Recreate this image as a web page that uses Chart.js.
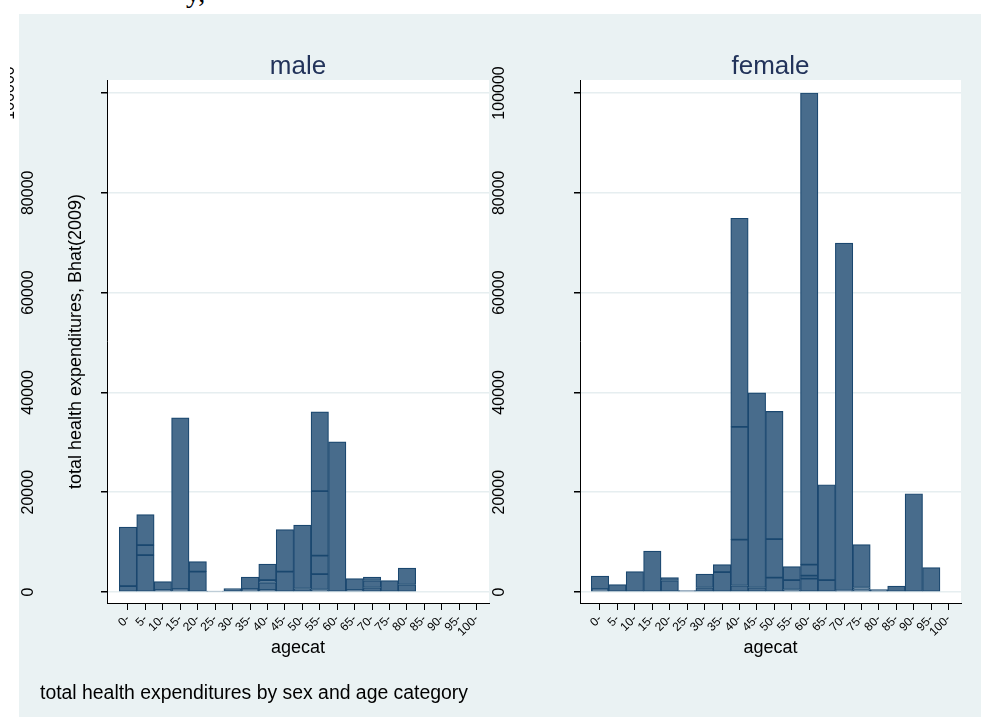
<!DOCTYPE html>
<html>
<head>
<meta charset="utf-8">
<script src="https://cdn.jsdelivr.net/npm/chart.js@4.4.0/dist/chart.umd.min.js"></script>
<style>
html,body{margin:0;padding:0;background:#fff;}
body{width:981px;height:717px;position:relative;overflow:hidden;font-family:'Liberation Sans',Arial,sans-serif;}
#bg{position:absolute;left:19px;top:14px;width:962px;height:703px;background:#eaf2f3;}
#cut{position:absolute;left:186px;top:-21px;font:28px 'Liberation Serif',serif;line-height:28px;color:#000;}
#note{position:absolute;left:40px;top:681px;font-size:19.4px;line-height:22px;color:#000;}
#c1{position:absolute;left:0;top:0;}
#c2{position:absolute;left:480px;top:0;}
</style>
</head>
<body>
<div id="bg"></div>
<div id="cut">y,</div>
<canvas id="c1" width="490" height="717"></canvas>
<canvas id="c2" width="501" height="717"></canvas>
<div id="note">total health expenditures by sex and age category</div>
<script>
const ageLabels = ['0-','5-','10-','15-','20-','25-','30-','35-','40-','45-','50-','55-','60-','65-','70-','75-','80-','85-','90-','95-','100-'];
const yTicks = [0, 20000, 40000, 60000, 80000, 100000];

// stacked pieces, bottom to top, one entry per age category
const maleSeg1 = [1200, 7400, 400, 600, 4100, 200, 700, 600, 400, 4100, 700, 500, 30100, 400, 900, 2300, 1500, null, null, null, null];
const maleSeg2 = [11800, 2000, 1700, 34300, 2000, null, null, 2400, 1500, 8400, 12700, 3100, null, 2300, 1400, null, 3300, null, null, null, null];
const maleSeg3 = [null, 6100, null, null, null, null, null, null, 500, null, null, 3700, null, null, 700, null, null, null, null, null, null];
const maleSeg4 = [null, null, null, null, null, null, null, null, 3200, null, null, 12900, null, null, null, null, null, null, null, null, null];
const maleSeg5 = [null, null, null, null, null, null, null, null, null, null, null, 15900, null, null, null, null, null, null, null, null, null];

const femaleSeg1 = [600, 1500, 4100, 8200, 2300, 300, 900, 4000, 1300, 900, 2900, 500, 2700, 2400, 300, 500, 500, 1200, 19700, 4900, null];
const femaleSeg2 = [2600, null, null, null, 600, null, 2700, 1500, 9200, 39000, 7700, 1900, 600, 19100, 69600, 400, null, null, null, null, null];
const femaleSeg3 = [null, null, null, null, null, null, null, null, 22600, null, 25600, 2700, 2200, null, null, 8600, null, null, null, null, null];
const femaleSeg4 = [null, null, null, null, null, null, null, null, 41800, null, null, null, 94500, null, null, null, null, null, null, null, null];

const fam = "'Liberation Sans', Arial, sans-serif";
const barFill = '#486c8c';
const barLine = '#1a476f';

function toPoints(arr){
 return arr.map((v,i)=>({x:i,y:v}));
}

const plotBg = {
 id:'plotBg',
 beforeDraw(chart){
  const {ctx, chartArea:a} = chart;
  ctx.save();
  ctx.fillStyle = '#fff';
  ctx.fillRect(a.left, a.top, a.right-a.left, a.bottom-a.top);
  ctx.restore();
 }
};

// y tick labels are drawn rotated like the original
const yLabels = {
 id:'yLabels',
 afterDraw(chart, args, o){
  const ctx = chart.ctx, s = chart.scales.y;
  ctx.save();
  ctx.font = '16px ' + fam;
  ctx.fillStyle = '#000';
  ctx.textAlign = 'center';
  ctx.textBaseline = 'middle';
  s.ticks.forEach(t=>{
   const y = s.getPixelForValue(t.value);
   let x = o.x;
   ctx.save();
   if(o.stray === t.value){
    x = o.strayX;
    ctx.beginPath();
    ctx.rect(o.strayClip, 0, 100, chart.height);
    ctx.clip();
   }
   ctx.translate(x, y);
   ctx.rotate(-Math.PI/2);
   ctx.fillText(String(t.value), 0, 0);
   ctx.restore();
  });
  ctx.restore();
 }
};

function panel(id, title, layers, opt){
 return new Chart(document.getElementById(id), {
  type:'bar',
  data:{
   datasets: layers.map(l=>({
    data: toPoints(l),
    backgroundColor: barFill,
    borderColor: barLine,
    borderWidth: 1.2,
    borderSkipped: false,
    barPercentage: 1,
    categoryPercentage: 1,
    stack: 's'
   }))
  },
  options:{
   responsive:false,
   animation:false,
   layout:{padding:{left:0, right:opt.padRight, top:0, bottom:0}},
   plugins:{
    legend:{display:false},
    tooltip:{enabled:false},
    title:{display:true, text:title, fullSize:false, color:'#22335a', font:{size:26, family:fam, weight:'normal'}, padding:{top:50.8, bottom:-2}},
    yLabels: opt.labels
   },
   scales:{
    x:{
     type:'linear', stacked:true, offset:false, min:opt.xMin, max:20.706,
     afterBuildTicks: s=>{ s.ticks = ageLabels.map((_,i)=>({value:i})); },
     afterFit: s=>{ s.height = 114; },
     grid:{offset:false, drawOnChartArea:false, drawTicks:true, tickLength:7, color:'#000'},
     border:{display:true, color:'#000', width:1},
     ticks:{autoSkip:false, minRotation:45, maxRotation:45, padding:2, color:'#000', font:{size:12, family:fam}, callback:v=>ageLabels[v]},
     title:{display:true, text:'agecat', color:'#000', font:{size:18, family:fam}, padding:{top:0, bottom:58.2}}
    },
    y:{
     stacked:true, min:-2200, max:102600,
     afterBuildTicks: s=>{ s.ticks = yTicks.map(v=>({value:v})); },
     afterFit: s=>{ s.width = opt.yWidth; },
     grid:{color:'#e6eef0', lineWidth:1.5, tickColor:'#000', tickLength:6},
     border:{display:true, color:'#000', width:1},
     ticks:{display:false},
     title: opt.yTitle
      ? {display:true, text:opt.yTitle, color:'#000', font:{size:18, family:fam}, padding:{top:65.2, bottom:0}}
      : {display:false}
    }
   }
  },
  plugins:[plotBg, yLabels]
 });
}

panel('c1', 'male', [maleSeg1, maleSeg2, maleSeg3, maleSeg4, maleSeg5], {
 xMin:-1.204, padRight:1, yWidth:107,
 yTitle:'total health expenditures, Bhat(2009)',
 labels:{x:29, stray:100000, strayX:10, strayClip:10}
});

panel('c2', 'female', [femaleSeg1, femaleSeg2, femaleSeg3, femaleSeg4], {
 xMin:-1.147, padRight:20, yWidth:100,
 yTitle:null,
 labels:{x:20}
});
</script>
</body>
</html>
